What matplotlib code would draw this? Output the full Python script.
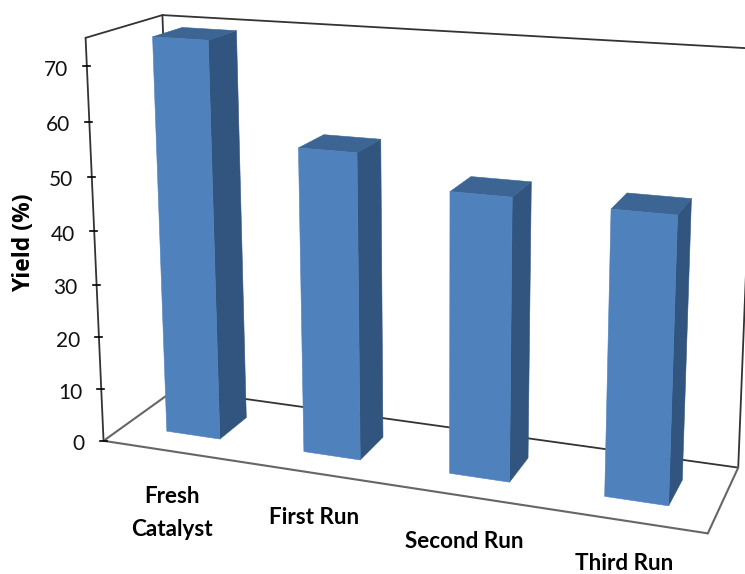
import numpy as np
import matplotlib
matplotlib.use("Agg")
import matplotlib.pyplot as plt
from matplotlib.patches import Polygon

# Chart data
categories = ["Fresh\nCatalyst", "First Run", "Second Run", "Third Run"]
yields = [74.4, 56.4, 51, 50.5]
y_ticks = [0, 10, 20, 30, 40, 50, 60, 70]
y_label = "Yield (%)"
z_top = 75

FRONT = "#4F81BD"
SIDE = "#31557F"
TOP = "#3C6594"
LINE = "#333333"
FLOOR_LINE = "#666666"

# Camera: box corners (category position, depth, value) and where they land on the canvas
box_corners = [
    ((0, 0, 0), (103, 441)),
    ((0, 0, z_top), (86, 38)),
    ((0, 1, 0), (176, 389)),
    ((0, 1, z_top), (162, 15)),
    ((4, 1, 0), (738, 468)),
    ((4, 0, 0), (708, 533)),
    ((4, 1, z_top), (755, 48.6)),
]


def solve_camera(pairs):
    rows, rhs = [], []
    for (x, d, z), (u, v) in pairs:
        rows.append([x, d, z, 1, 0, 0, 0, 0, -u * x, -u * d, -u * z])
        rhs.append(u)
        rows.append([0, 0, 0, 0, x, d, z, 1, -v * x, -v * d, -v * z])
        rhs.append(v)
    h = np.linalg.lstsq(np.array(rows, float), np.array(rhs, float), rcond=None)[0]
    return np.append(h, 1).reshape(3, 4)


CAM = solve_camera(box_corners)


def project(x, d, z):
    p = CAM @ np.array([x, d, z, 1.0])
    return p[0] / p[2], p[1] / p[2]


fig = plt.figure(figsize=(7.45, 5.74), dpi=100)
ax = fig.add_axes([0, 0, 1, 1])
ax.set_xlim(0, 745)
ax.set_ylim(574, 0)
ax.axis("off")
plt.rcParams["font.family"] = ["Lato", "DejaVu Sans"]


def edge(a, b, color=LINE, lw=1.3):
    pa, pb = project(*a), project(*b)
    ax.plot([pa[0], pb[0]], [pa[1], pb[1]], color=color, lw=lw,
            solid_capstyle="round", zorder=1)


n = len(categories)
# Walls and floor
edge((0, 0, 0), (0, 0, z_top))
edge((0, 0, z_top), (0, 1, z_top))
edge((0, 1, z_top), (0, 1, 0))
edge((0, 1, 0), (0, 0, 0), color=FLOOR_LINE, lw=1.5)
edge((0, 1, z_top), (n, 1, z_top))
edge((n, 1, z_top), (n, 1, 0))
edge((0, 1, 0), (n, 1, 0))
edge((0, 0, 0), (n, 0, 0), color=FLOOR_LINE, lw=1.5)
edge((n, 0, 0), (n, 1, 0), color=FLOOR_LINE, lw=1.5)

# Bars
half = 0.197
d0, d1 = 0.29, 0.69
for i, v in enumerate(yields):
    xa, xb = i + 0.51 - half, i + 0.51 + half
    faces = [
        ([(xb, d0, 0), (xb, d1, 0), (xb, d1, v), (xb, d0, v)], SIDE),
        ([(xa, d0, v), (xb, d0, v), (xb, d1, v), (xa, d1, v)], TOP),
        ([(xa, d0, 0), (xb, d0, 0), (xb, d0, v), (xa, d0, v)], FRONT),
    ]
    for pts, col in faces:
        ax.add_patch(Polygon([project(*p) for p in pts], closed=True, fc=col,
                             ec=col, lw=0.4, zorder=2))

# Value axis ticks and labels
for t in y_ticks:
    u, w = project(0, 0, t)
    ax.plot([u - 4, u + 3], [w, w], color="black", lw=1.2, zorder=3)
    ax.text(u - 19, w + 3.5, str(t), ha="right", va="center", fontsize=15, color="#111111")

ax.text(24, 243, y_label, rotation=90, ha="center", va="center", fontsize=16.5,
        fontweight="bold", color="black", family=["Open Sans", "DejaVu Sans"])

# Category labels follow the front edge of the floor
label_offsets = [(172, 513), (314, 517), (464.5, 542), (624, 564)]
for name, (u, w) in zip(categories, label_offsets):
    ax.text(u, w, name, ha="center", va="center", fontsize=16.2, fontweight="bold",
            color="black", linespacing=1.7, clip_on=False)

fig.savefig("out.png", dpi=100, facecolor="white")
